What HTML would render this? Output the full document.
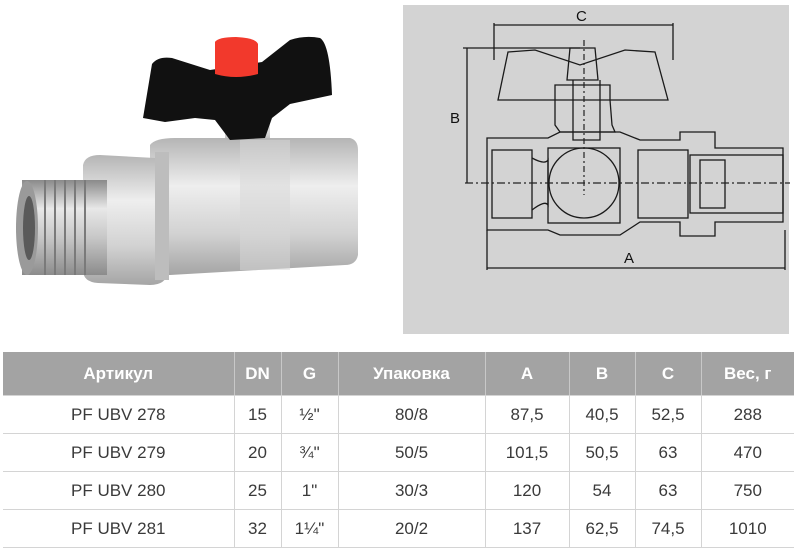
<!DOCTYPE html>
<html><head><meta charset="utf-8"><style>
body{margin:0;width:800px;height:546px;background:#fff;overflow:hidden;font-family:"Liberation Sans",sans-serif;position:relative}
table{position:absolute;left:3px;top:352px;border-collapse:collapse;width:791px;table-layout:fixed}
td,th{text-align:center;font-size:17px;color:#3a3a3a;height:37px;border-right:1px solid #d4d4d4;border-bottom:1px solid #d4d4d4;padding:0;font-weight:normal}
th{background:#a3a3a3;color:#fff;font-weight:bold;height:43px;border-right:1px solid #c8c8c8}
tr td:last-child,tr th:last-child{border-right:none}
</style></head><body>
<svg width="800" height="340" style="position:absolute;left:0;top:0">
<defs>
<linearGradient id="m" x1="0" y1="0" x2="0" y2="1"><stop offset="0" stop-color="#8a8a8a"/><stop offset=".3" stop-color="#e8e8e8"/><stop offset=".6" stop-color="#c8c8c8"/><stop offset="1" stop-color="#8c8c8c"/></linearGradient>
<linearGradient id="b" x1="0" y1="0" x2="0" y2="1"><stop offset="0" stop-color="#b5b5b5"/><stop offset=".35" stop-color="#eeeeee"/><stop offset=".7" stop-color="#d2d2d2"/><stop offset="1" stop-color="#a5a5a5"/></linearGradient>
</defs>
<!-- photo -->
<rect x="225" y="110" width="45" height="35" fill="url(#b)"/>
<path d="M150,145 Q155,138 175,138 L350,138 Q358,140 358,150 L358,255 Q356,265 345,265 L170,275 Q152,275 150,265Z" fill="url(#b)"/>
<rect x="240" y="140" width="50" height="130" fill="#d8d8d8" opacity=".5"/>
<path d="M83,165 Q85,155 100,155 L155,158 Q168,160 168,170 L168,272 Q166,285 150,285 L98,283 Q83,282 83,270Z" fill="url(#b)"/>
<rect x="155" y="152" width="14" height="128" fill="#bdbdbd"/>
<rect x="22" y="180" width="85" height="95" fill="url(#m)"/>
<g stroke="#7a7a7a" stroke-width="2"><line x1="45" y1="180" x2="45" y2="275"/><line x1="55" y1="180" x2="55" y2="275"/><line x1="65" y1="180" x2="65" y2="275"/><line x1="75" y1="180" x2="75" y2="275"/><line x1="85" y1="180" x2="85" y2="275"/></g>
<ellipse cx="27" cy="228" rx="11" ry="47" fill="#9a9a9a"/>
<ellipse cx="29" cy="228" rx="6" ry="32" fill="#5a5a5a"/>
<path d="M143,118 L152,64 Q158,56 172,58 L210,70 L262,62 L290,40 Q305,35 320,38 Q330,44 332,95 L318,98 L290,104 L272,118 L265,138 L230,140 L215,120 L195,118 L165,122 Z" fill="#111"/>
<path d="M215,42 Q218,37 236,37 Q256,38 258,44 L258,74 Q236,80 215,74Z" fill="#f2392c"/>
<!-- drawing panel -->
<rect x="403" y="5" width="386" height="329" fill="#d3d3d3"/>
<g fill="none" stroke="#1a1a1a" stroke-width="1.3">
<line x1="494" y1="25" x2="673" y2="25"/><line x1="494" y1="23" x2="494" y2="60"/><line x1="673" y1="23" x2="673" y2="60"/>
<line x1="467" y1="48" x2="467" y2="183"/><line x1="463" y1="48" x2="580" y2="48"/>
<line x1="487" y1="268" x2="785" y2="268"/><line x1="487" y1="230" x2="487" y2="270"/><line x1="785" y1="230" x2="785" y2="270"/>
<path d="M498,100 L508,52 L535,50 L580,65 L625,50 L655,52 L668,100 Z"/>
<path d="M570,48 L595,48 L598,80 L567,80 Z"/>
<path d="M555,100 L555,85 L610,85 L610,100 L612,125 L615,132 L560,132 L555,125Z"/>
<path d="M573,80 L573,140 L600,140 L600,80"/>
<path d="M487,138 L487,230 L548,230 L560,235 L620,235 L640,222 L680,222 L680,236 L715,236 L715,222 L783,222 L783,148 L715,148 L715,132 L680,132 L680,140 L640,140 L620,132 L560,132 L548,138 Z"/>
<rect x="492" y="150" width="40" height="68"/>
<path d="M532,158 Q545,165 548,160 L548,205 Q545,200 532,210"/>
<rect x="548" y="148" width="72" height="75"/>
<circle cx="584" cy="183" r="35"/>
<rect x="638" y="150" width="50" height="68"/>
<rect x="690" y="155" width="93" height="58"/>
<rect x="700" y="160" width="25" height="48"/>
</g>
<line x1="465" y1="183" x2="790" y2="183" stroke="#222" stroke-width="1.2" stroke-dasharray="8,3,2,3"/>
<line x1="584" y1="40" x2="584" y2="195" stroke="#222" stroke-width="1.2" stroke-dasharray="6,3,2,3"/>
<g font-family="Liberation Sans" font-size="15" fill="#111"><text x="576" y="21">C</text><text x="450" y="123">B</text><text x="624" y="263">A</text></g>
</svg>
<table>
<colgroup><col style="width:231px"><col style="width:47px"><col style="width:57px"><col style="width:147px"><col style="width:84px"><col style="width:66px"><col style="width:66px"><col></colgroup>
<tr><th>Артикул</th><th>DN</th><th>G</th><th>Упаковка</th><th>A</th><th>B</th><th>C</th><th>Вес, г</th></tr>
<tr><td>PF UBV 278</td><td>15</td><td>½"</td><td>80/8</td><td>87,5</td><td>40,5</td><td>52,5</td><td>288</td></tr>
<tr><td>PF UBV 279</td><td>20</td><td>¾"</td><td>50/5</td><td>101,5</td><td>50,5</td><td>63</td><td>470</td></tr>
<tr><td>PF UBV 280</td><td>25</td><td>1"</td><td>30/3</td><td>120</td><td>54</td><td>63</td><td>750</td></tr>
<tr><td>PF UBV 281</td><td>32</td><td>1¼"</td><td>20/2</td><td>137</td><td>62,5</td><td>74,5</td><td>1010</td></tr>
</table>
</body></html>
